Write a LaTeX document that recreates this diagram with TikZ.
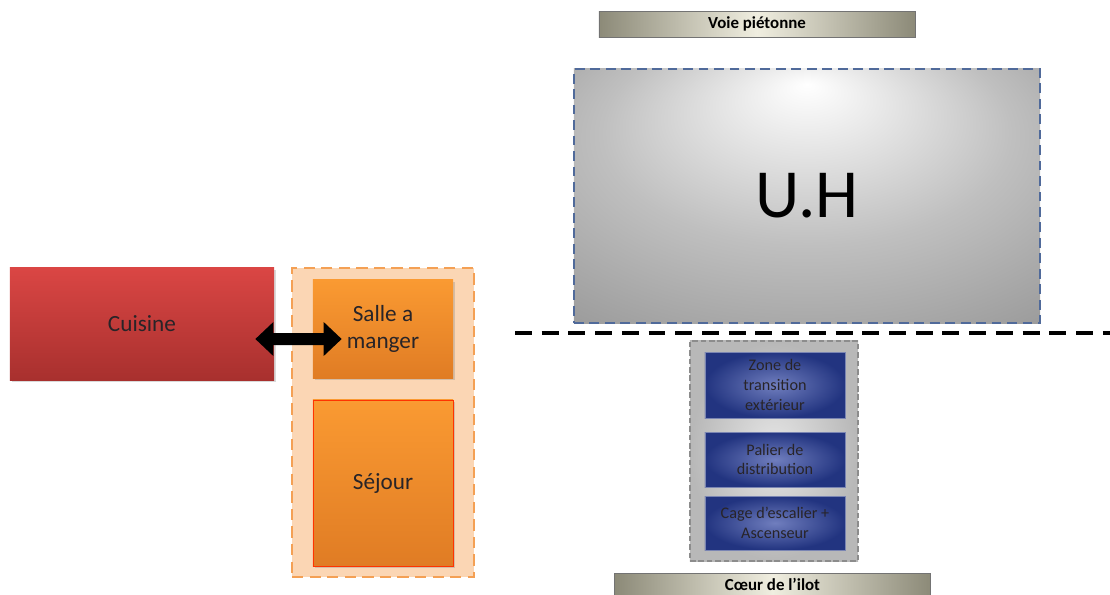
\documentclass[tikz,border=0pt]{standalone}
\usepackage{fontspec}
\setmainfont{Carlito}
\usetikzlibrary{arrows.meta, positioning, shadows}
\definecolor{cuisineTop}{RGB}{218, 70, 68}
\definecolor{cuisineBot}{RGB}{168, 48, 46}
\definecolor{orangeTop}{RGB}{250, 154, 50}
\definecolor{orangeBot}{RGB}{224, 124, 36}
\definecolor{orangeZone}{RGB}{251, 214, 180}
\definecolor{orangeLine}{RGB}{244, 160, 84}
\definecolor{blueIn}{RGB}{112, 126, 190}
\definecolor{blueOut}{RGB}{34, 52, 128}
\definecolor{barEdge}{RGB}{140, 138, 120}
\definecolor{barMid}{RGB}{240, 238, 224}
\definecolor{uhLine}{RGB}{80, 106, 154}
\definecolor{txtDark}{RGB}{40, 36, 40}
\pgfdeclareradialshading{uhshade}{\pgfpoint{0bp}{22bp}}{color(0bp)=(white); color(22bp)=(black!25); color(50bp)=(black!48)}

\begin{document}
\begin{tikzpicture}[x=0.025cm, y=-0.025cm,
    bar/.style={draw=black!55, line width=0.6pt, left color=barEdge, right color=barEdge, middle color=barMid,
        minimum width=7.9cm, minimum height=0.65cm, inner sep=0pt, font=\bfseries\fontsize{12}{14}\selectfont},
    piece/.style={inner sep=0pt, align=center, text=txtDark, font=\fontsize{16.5}{19.5}\selectfont,
        drop shadow={opacity=0.3, shadow xshift=0.04cm, shadow yshift=-0.05cm}},
    orangebox/.style={piece, top color=orangeTop, bottom color=orangeBot, minimum width=3.5cm},
    bluebox/.style={inner sep=0pt, align=center, text=txtDark, inner color=blueIn, outer color=blueOut,
        draw=blueOut!60!white, line width=0.5pt, minimum width=3.5cm, font=\fontsize{11.5}{14}\selectfont}]
    \useasboundingbox (0,0) rectangle (1110,594);
    % zone habitation
    \node[bar] (voie) at (757,24) {Voie piétonne};
    \node[draw=uhLine, line width=1pt, dash pattern=on 7pt off 4pt, shading=uhshade, minimum width=11.65cm,
        minimum height=6.35cm, font=\fontsize{49}{52}\selectfont] (uh) at (807,196) {U.H};
    \coordinate (limA) at (515,333);
    \coordinate (limB) at (1110,333);
    \draw[line width=2.8pt, dash pattern=on 12pt off 7pt] (limA) -- (limB);
    % cuisine et sejour
    \node[piece, top color=cuisineTop, bottom color=cuisineBot, minimum width=6.6cm, minimum height=2.8cm] (cuisine) at (142,324) {Cuisine};
    \node[draw=orangeLine, fill=orangeZone, line width=1.8pt, dash pattern=on 8pt off 4.5pt,
        minimum width=4.55cm, minimum height=7.725cm] (salon) at (383,422.5) {};
    \node[orangebox, minimum height=2.45cm] (salle) at (383,329) {Salle a\\manger};
    \node[orangebox, draw=red!60!orange, line width=0.5pt, minimum height=4.15cm] (sejour) at (383,483) {Séjour};
    \draw[line width=0.3cm, {Triangle[width=0.82cm,length=0.45cm]}-{Triangle[width=0.82cm,length=0.45cm]}]
        ([xshift=-0.475cm, yshift=-0.375cm]cuisine.east) -- ([xshift=0.725cm, yshift=-0.25cm]salle.west);
    % noyau de circulation
    \node[draw=black!45, line width=0.8pt, dash pattern=on 4pt off 2pt, inner color=black!10, outer color=black!28,
        minimum width=4.2cm, minimum height=5.5cm] (noyau) at (774,451) {};
    \node[bluebox, minimum height=1.65cm] (zone) at (775,385) {Zone de\\transition\\extérieur};
    \node[bluebox, minimum height=1.375cm] (palier) at (775,459.5) {Palier de\\distribution};
    \node[bluebox, minimum height=1.35cm] (cage) at (775,523) {Cage d’escalier +\\Ascenseur};
    \node[bar, anchor=north, minimum height=0.55cm] (coeur) at (772.5,573) {Cœur de l’ilot};
\end{tikzpicture}
\end{document}
